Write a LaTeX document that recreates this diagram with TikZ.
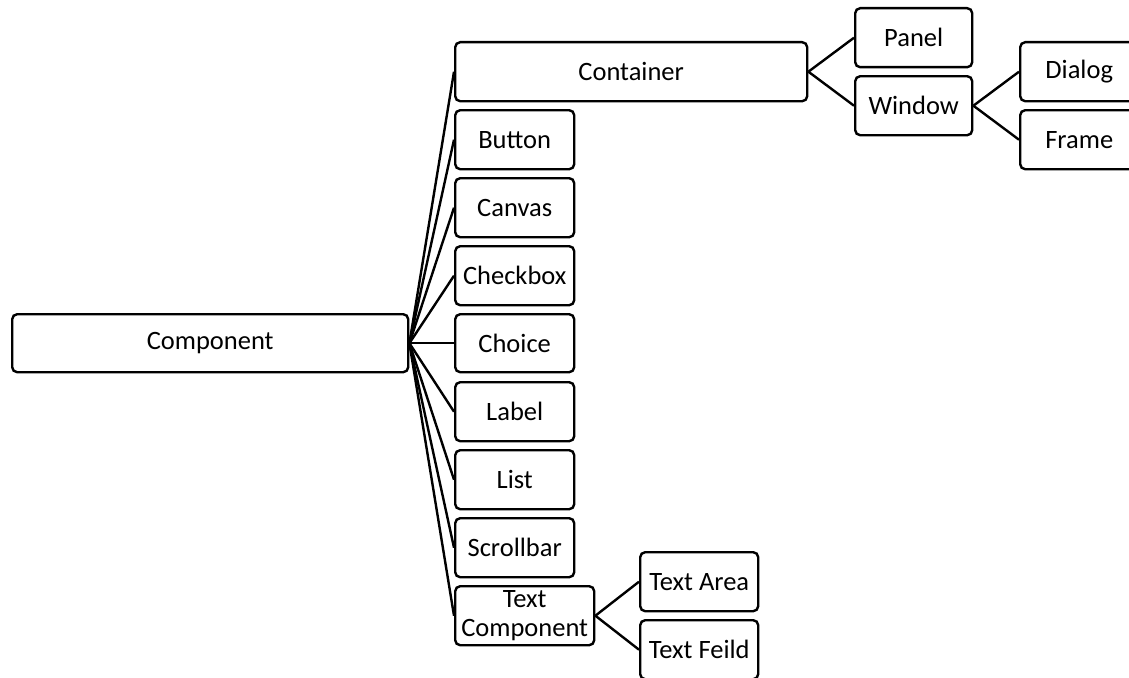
\documentclass[tikz,border=0pt]{standalone}
\usepackage{fontspec}
\setmainfont{Carlito}
\begin{document}
\begin{tikzpicture}[x=1pt,y=-1pt,
  box/.style={draw=black,line width=2.4pt,rounded corners=5pt,fill=white,inner sep=0pt,anchor=north west,
    font=\fontsize{26.5}{29.5}\selectfont,align=center},
  link/.style={draw=black,line width=2.4pt}]
\useasboundingbox (0,0) rectangle (1129,677);
\fill[white] (0,0) rectangle (1129,677);
% nodes: width, height, position
\node[box,minimum width=396pt,minimum height=58pt] (comp) at (11,313) {Component};
\node[box,minimum width=352pt,minimum height=59pt] (cont) at (454,41) {Container};
\node[box,minimum width=119pt,minimum height=59pt] (btn) at (454,109) {Button};
\node[box,minimum width=119pt,minimum height=59pt] (can) at (454,177) {Canvas};
\node[box,minimum width=119pt,minimum height=59pt] (chk) at (454,245) {Checkbox};
\node[box,minimum width=119pt,minimum height=58pt] (cho) at (454,313) {Choice};
\node[box,minimum width=119pt,minimum height=59pt] (lab) at (454,381) {Label};
\node[box,minimum width=119pt,minimum height=59pt] (lst) at (454,449) {List};
\node[box,minimum width=119pt,minimum height=59pt] (scr) at (454,517) {Scrollbar};
\node[box,minimum width=139pt,minimum height=59pt] (txc) at (454,585) {Text\\Component};
\node[box,minimum width=117pt,minimum height=59pt] (pan) at (854,7) {Panel};
\node[box,minimum width=117pt,minimum height=59pt] (win) at (854,75) {Window};
\node[box,minimum width=118pt,minimum height=59pt] (dia) at (1019,41) {Dialog};
\node[box,minimum width=118pt,minimum height=59pt] (frm) at (1019,109) {Frame};
\node[box,minimum width=118pt,minimum height=59pt] (tar) at (639,551) {Text Area};
\node[box,minimum width=118pt,minimum height=59pt] (tfd) at (639,619) {Text Feild};
% connectors
\foreach \c in {cont,btn,can,chk,cho,lab,lst,scr,txc}
  \draw[link] (comp.east) -- (\c.west);
\draw[link] (cont.east) -- (pan.west);
\draw[link] (cont.east) -- (win.west);
\draw[link] (win.east) -- (dia.west);
\draw[link] (win.east) -- (frm.west);
\draw[link] (txc.east) -- (tar.west);
\draw[link] (txc.east) -- (tfd.west);
\end{tikzpicture}
\end{document}
